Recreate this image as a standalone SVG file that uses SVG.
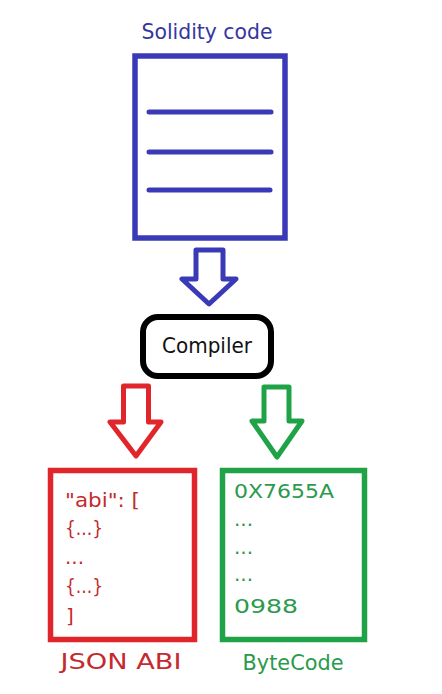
<svg xmlns="http://www.w3.org/2000/svg" width="442" height="694" viewBox="0 0 442 694">
<style>
.t{font-family:"DejaVu Sans","Liberation Sans",sans-serif;}
.blue{stroke:#3a3ab8;}
.red{stroke:#e0262b;}
.green{stroke:#20a347;}
.box{fill:#fff;stroke-width:5.5;}
.arr{fill:#fff;stroke-width:5;stroke-linejoin:round;}
.ln{stroke-width:5;stroke-linecap:round;}
.tb{fill:#36369e;}
.tr{fill:#c42a2e;}
.tg{fill:#2a9a4c;}
</style>
<rect width="442" height="694" fill="#fff"/>
<g id="solidity">
<text class="t tb" x="207" y="39" font-size="21" text-anchor="middle" textLength="131" lengthAdjust="spacingAndGlyphs">Solidity code</text>
<rect class="box blue" x="135" y="56" width="150" height="182"/>
<line class="ln blue" x1="149" y1="112" x2="271" y2="112"/>
<line class="ln blue" x1="149" y1="152" x2="271" y2="152"/>
<line class="ln blue" x1="149" y1="190" x2="270" y2="190"/>
</g>
<g id="compiler">
<rect x="143" y="317" width="128" height="59" rx="15" fill="#fff" stroke="#000" stroke-width="6"/>
<text class="t" x="207" y="353" font-size="21" text-anchor="middle" textLength="90" lengthAdjust="spacingAndGlyphs" fill="#111">Compiler</text>
</g>
<g id="connectors">
<path class="arr blue" d="M196,250 L223,250 L223,279 L236,279 L209,304 L182,279 L196,279 Z"/>
<path class="arr red" d="M123.5,386 L148.5,386 L148.5,422 L161,422 L136,456 L110,422 L123.5,422 Z"/>
<path class="arr green" d="M264,387 L289,387 L289,421 L302,421 L277,457 L252,421 L264,421 Z"/>
</g>
<g id="json-abi">
<rect class="box red" x="50.5" y="470.5" width="144" height="169"/>
<text class="t tr" font-size="20" x="65" y="507" textLength="75" lengthAdjust="spacingAndGlyphs">"abi": [</text>
<text class="t tr" font-size="20" x="65" y="535" textLength="38" lengthAdjust="spacingAndGlyphs">{...}</text>
<text class="t tr" font-size="20" x="65" y="564">...</text>
<text class="t tr" font-size="20" x="65" y="593" textLength="38" lengthAdjust="spacingAndGlyphs">{...}</text>
<text class="t tr" font-size="20" x="66" y="623">]</text>
<text class="t tr" font-size="21" x="121" y="669" text-anchor="middle" textLength="121" lengthAdjust="spacingAndGlyphs">JSON ABI</text>
</g>
<g id="bytecode">
<rect class="box green" x="222.5" y="470.5" width="142" height="169"/>
<text class="t tg" font-size="20" x="234" y="498" textLength="100" lengthAdjust="spacingAndGlyphs">0X7655A</text>
<text class="t tg" font-size="20" x="234" y="526">...</text>
<text class="t tg" font-size="20" x="234" y="554">...</text>
<text class="t tg" font-size="20" x="234" y="581">...</text>
<text class="t tg" font-size="20" x="234" y="613" textLength="64" lengthAdjust="spacingAndGlyphs">0988</text>
<text class="t tg" font-size="21" x="293" y="670" text-anchor="middle" textLength="101" lengthAdjust="spacingAndGlyphs">ByteCode</text>
</g>
</svg>
